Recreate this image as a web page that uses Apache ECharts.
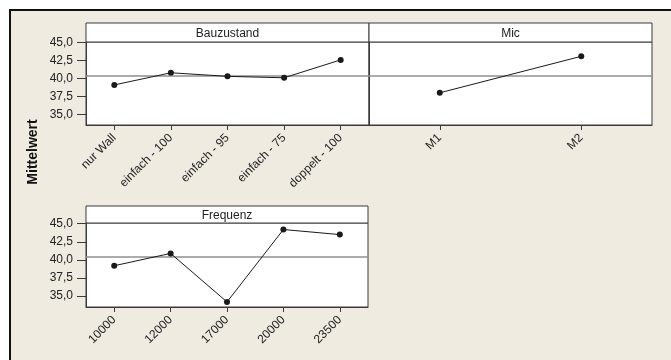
<!DOCTYPE html>
<html>
<head>
<meta charset="utf-8">
<script src="https://cdn.jsdelivr.net/npm/echarts@6/dist/echarts.min.js"></script>
<style>
html,body{margin:0;padding:0;background:#ffffff;}
#chart{width:671px;height:360px;}
</style>
</head>
<body>
<div id="chart"></div>
<script>
// ---- data ----
const bauzustandCats = ['nur Wall', 'einfach - 100', 'einfach - 95', 'einfach - 75', 'doppelt - 100'];
const bauzustandVals = [39.1, 40.8, 40.3, 40.1, 42.6];
const micCats = ['M1', 'M2'];
const micVals = [38.0, 43.1];
const freqCats = ['10000', '12000', '17000', '20000', '23500'];
const freqVals = [39.2, 40.9, 34.2, 44.2, 43.5];
const grandMean = 40.4;
const yTicks = [35, 37.5, 40, 42.5, 45];
const panelTitles = ['Bauzustand', 'Mic', 'Frequenz'];
const yTitle = 'Mittelwert';

const FONT = '"Liberation Sans", Arial, sans-serif';
const chart = echarts.init(document.getElementById('chart'), null, {renderer: 'canvas'});

const grids = [
  {left: 86, top: 42, width: 283, height: 83},
  {left: 369, top: 42, width: 283, height: 83},
  {left: 86, top: 223, width: 282, height: 84}
];
const headers = [
  {x: 86, y: 23, w: 283, h: 19},
  {x: 369, y: 23, w: 283, h: 19},
  {x: 86, y: 206, w: 282, h: 17}
];
const catsList = [bauzustandCats, micCats, freqCats];
const valsList = [bauzustandVals, micVals, freqVals];

const fmt = v => v.toFixed(1).replace('.', ',');

const option = {
  animation: false,
  backgroundColor: 'transparent',
  grid: grids.map(g => Object.assign({show: true, backgroundColor: '#ffffff', borderColor: '#3a3a3a', borderWidth: 1}, g)),
  xAxis: catsList.map((cats, i) => ({
    type: 'category', gridIndex: i, data: cats, boundaryGap: true,
    axisLine: {show: true, lineStyle: {color: '#3a3a3a', width: 1}},
    axisTick: {show: true, alignWithLabel: true, length: 5, lineStyle: {color: '#3a3a3a'}},
    axisLabel: {rotate: 45, margin: 11, fontFamily: FONT, fontSize: 12, color: '#222222', interval: 0},
    splitLine: {show: false}
  })),
  yAxis: [0, 1, 2].map(i => ({
    type: 'value', gridIndex: i, min: 33.5, max: 45.1,
    axisLine: {show: true, lineStyle: {color: '#3a3a3a', width: 1}},
    axisTick: {show: i !== 1, length: 9, customValues: yTicks, lineStyle: {color: '#3a3a3a'}},
    axisLabel: {show: i !== 1, margin: 13, customValues: yTicks, formatter: fmt,
      fontFamily: FONT, fontSize: 12, color: '#222222'},
    splitLine: {show: false}
  })),
  series: valsList.map((vals, i) => ({
    type: 'line', xAxisIndex: i, yAxisIndex: i, data: vals,
    symbol: 'circle', symbolSize: 6,
    lineStyle: {color: '#1a1a1a', width: 1},
    itemStyle: {color: '#1a1a1a'},
    z: 5,
    markLine: {
      silent: true, symbol: ['none', 'none'], label: {show: false},
      lineStyle: {color: '#8f8f8f', width: 1.5, type: 'solid'},
      data: [{yAxis: grandMean}]
    }
  })),
  graphic: [
    {type: 'rect', z: -10, shape: {x: 10, y: 10, width: 700, height: 400},
      style: {fill: '#efebe1', stroke: '#111111', lineWidth: 2}},
    {type: 'text', x: 33, y: 152, rotation: Math.PI / 2,
      style: {text: yTitle, font: 'bold 14px ' + FONT, fill: '#111111', align: 'center', verticalAlign: 'middle'}},
  ].concat(headers.map((h, i) => ({
    type: 'group', children: [
      {type: 'rect', shape: {x: h.x, y: h.y, width: h.w, height: h.h},
        style: {fill: '#ffffff', stroke: '#3a3a3a', lineWidth: 1}},
      {type: 'text', x: h.x + h.w / 2, y: h.y + h.h / 2 + 1,
        style: {text: panelTitles[i], font: '12px ' + FONT, fill: '#222222', align: 'center', verticalAlign: 'middle'}}
    ]
  })))
};
chart.setOption(option);
</script>
</body>
</html>
